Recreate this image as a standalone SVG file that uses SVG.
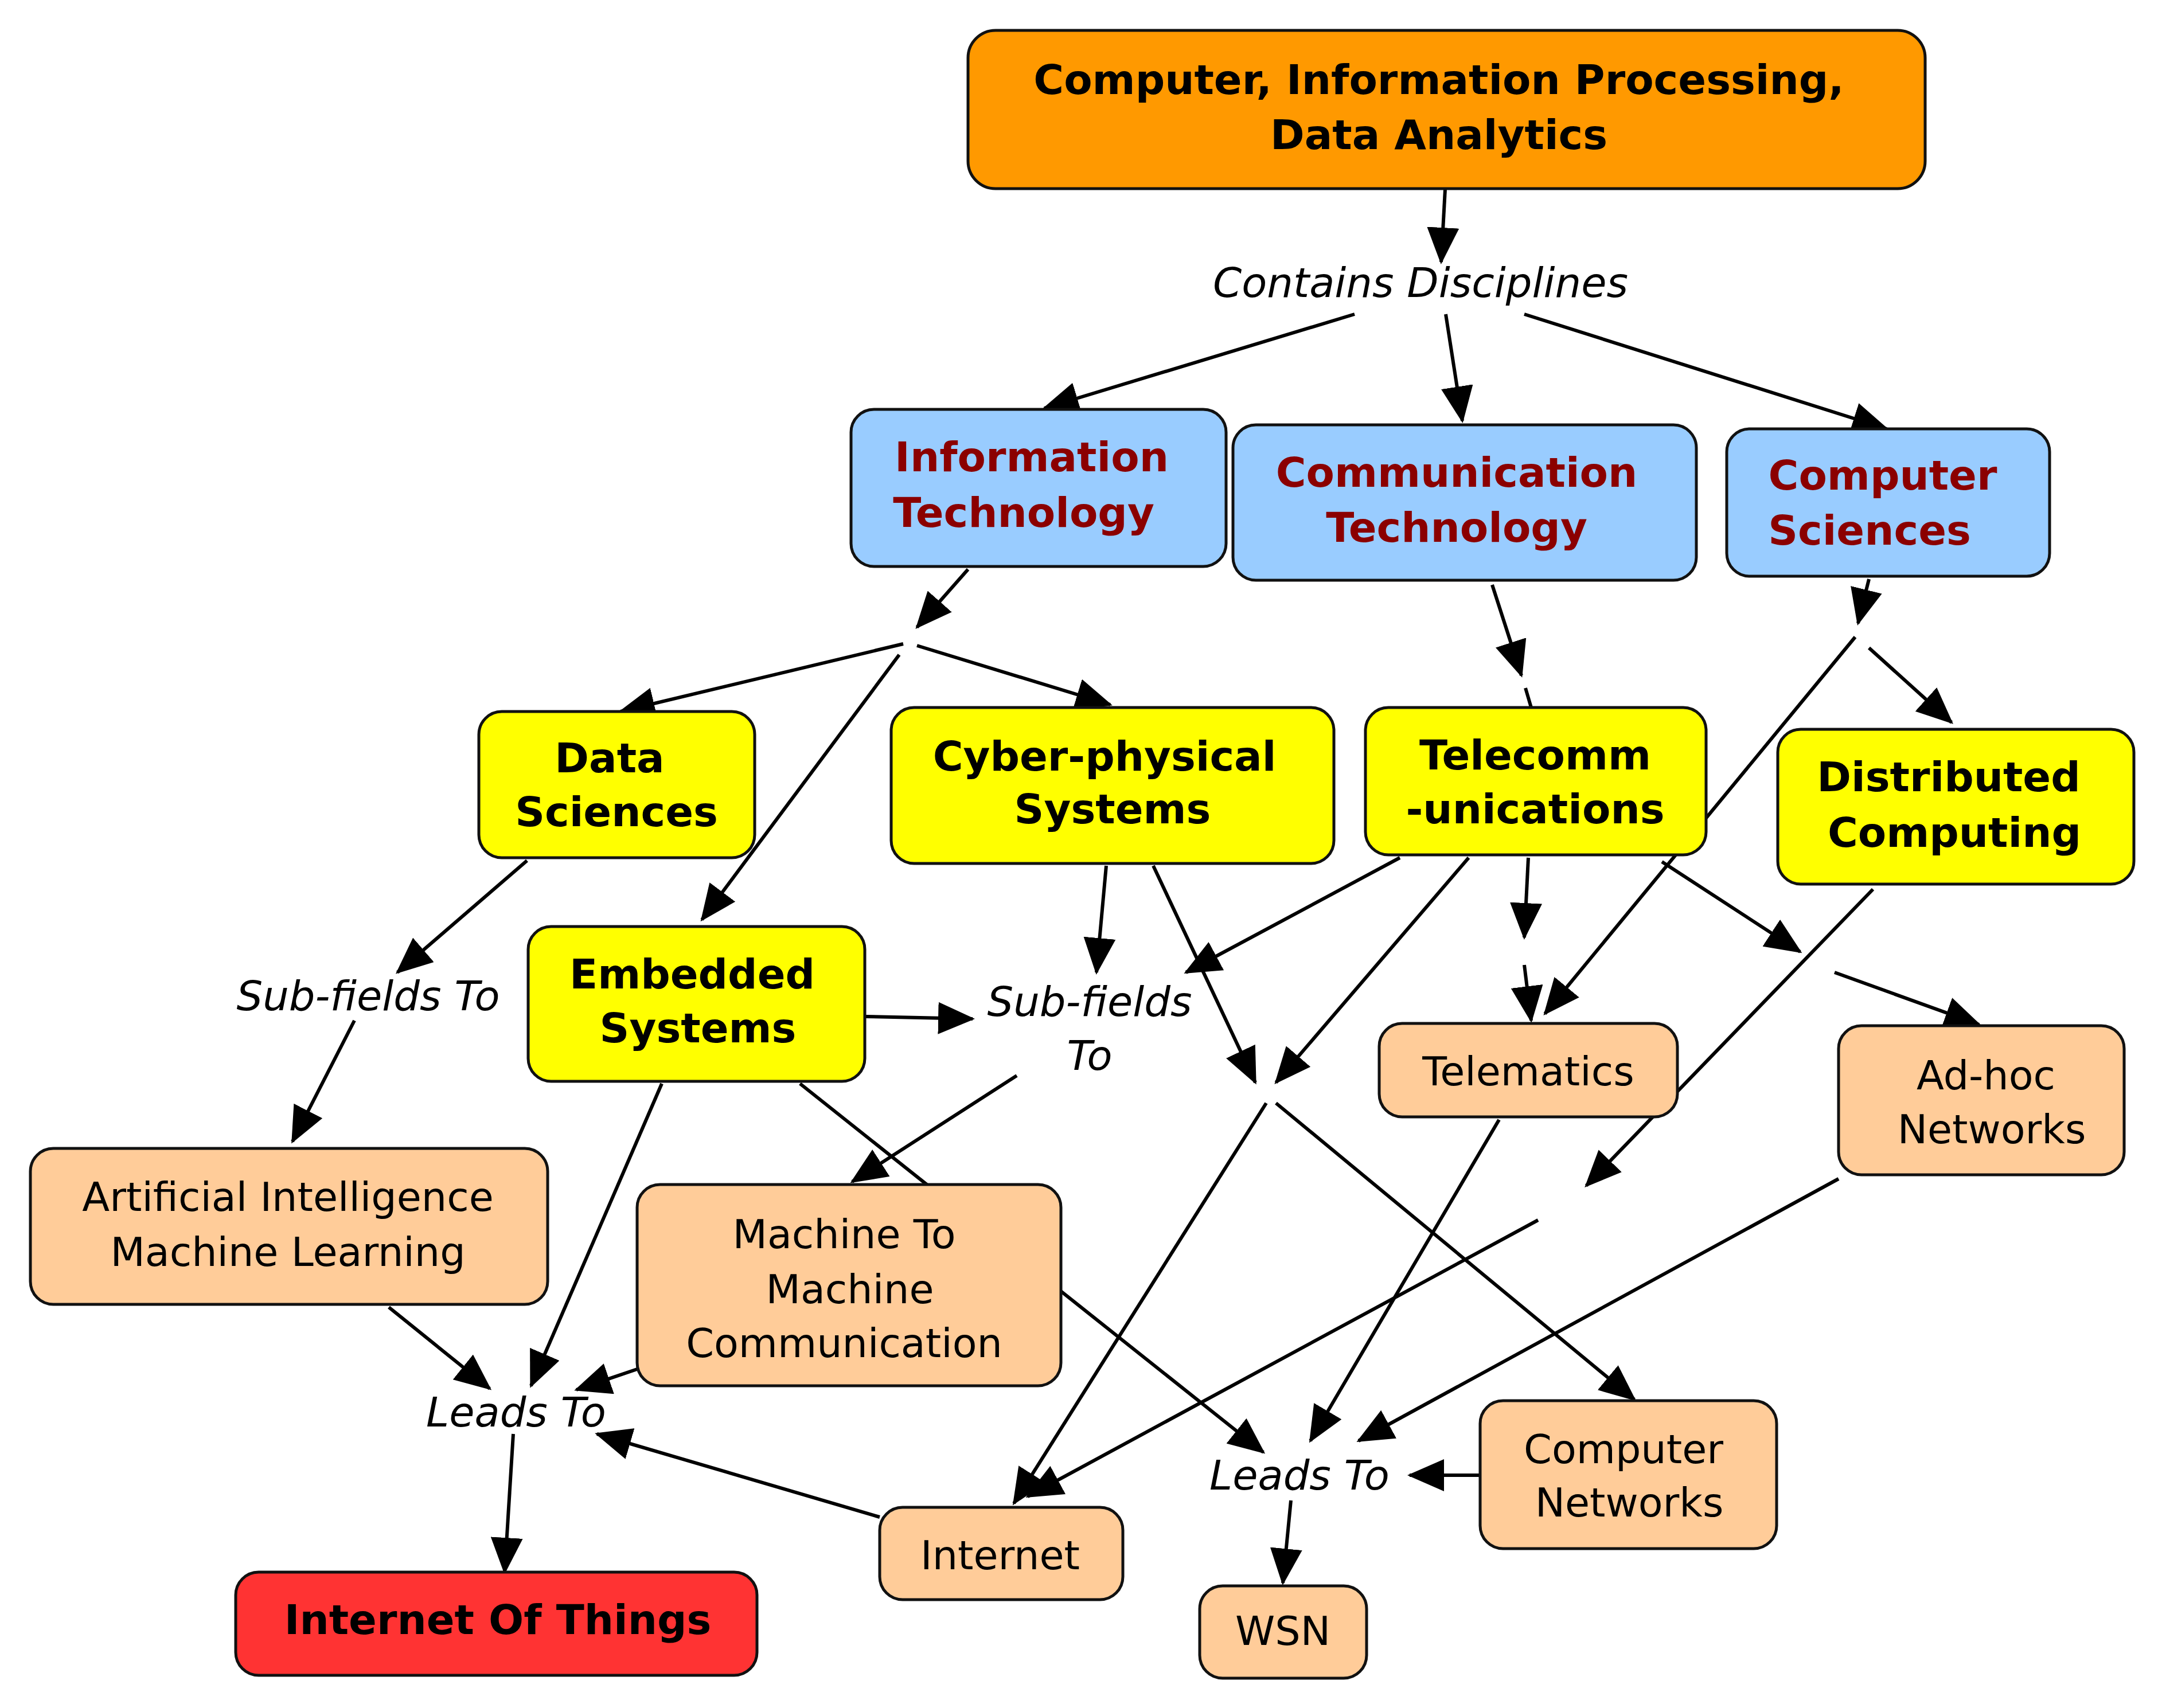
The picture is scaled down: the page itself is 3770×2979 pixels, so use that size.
<svg xmlns="http://www.w3.org/2000/svg" width="3770" height="2979" viewBox="0 0 3770 2979">
<style>
.n{stroke:#111;stroke-width:5}
.b{font-family:"DejaVu Sans",Verdana,sans-serif;font-weight:bold;font-size:72px;text-anchor:middle;fill:#000}
.r{fill:#8B0000}
.t{font-family:"DejaVu Sans",Verdana,sans-serif;font-size:70px;text-anchor:middle;fill:#000}
.l{font-family:"DejaVu Sans",Verdana,sans-serif;font-style:italic;font-size:72px;text-anchor:middle;fill:#000}
.c line{stroke:#000;stroke-width:6}
.a{marker-end:url(#ah)}
</style>
<defs>
<marker id="ah" markerUnits="userSpaceOnUse" markerWidth="64" markerHeight="56" refX="60" refY="28" orient="auto"><path d="M0,0 L64,28 L0,56 Z" fill="#000"/></marker>
</defs>
<rect width="3770" height="2979" fill="#fff"/>
<g id="connectors" class="c">
<line class="a" x1="2520" y1="330" x2="2513" y2="457"/>
<line class="a" x1="2362" y1="548" x2="1821" y2="712"/>
<line class="a" x1="2521" y1="548" x2="2550" y2="734"/>
<line class="a" x1="2658" y1="548" x2="3290" y2="748"/>
<line class="a" x1="1688" y1="993" x2="1599" y2="1094"/>
<line class="a" x1="1575" y1="1123" x2="1082" y2="1241"/>
<line class="a" x1="1599" y1="1126" x2="1936" y2="1229"/>
<line class="a" x1="1568" y1="1142" x2="1224" y2="1604"/>
<line class="a" x1="2602" y1="1020" x2="2653" y2="1178"/>
<line x1="2660" y1="1200" x2="2670" y2="1234"/>
<line class="a" x1="3259" y1="1010" x2="3240" y2="1087"/>
<line class="a" x1="3259" y1="1130" x2="3403" y2="1260"/>
<line class="a" x1="3235" y1="1111" x2="2694" y2="1768"/>
<line class="a" x1="2665" y1="1496" x2="2658" y2="1635"/>
<line class="a" x1="2658" y1="1683" x2="2670" y2="1780"/>
<line class="a" x1="2898" y1="1503" x2="3139" y2="1660"/>
<line class="a" x1="3199" y1="1696" x2="3451" y2="1787"/>
<line class="a" x1="2441" y1="1496" x2="2068" y2="1696"/>
<line class="a" x1="2561" y1="1496" x2="2225" y2="1888"/>
<line class="a" x1="1929" y1="1510" x2="1912" y2="1696"/>
<line class="a" x1="2011" y1="1510" x2="2189" y2="1888"/>
<line class="a" x1="2208" y1="1924" x2="1768" y2="2622"/>
<line class="a" x1="2225" y1="1924" x2="2850" y2="2441"/>
<line class="a" x1="919" y1="1501" x2="693" y2="1696"/>
<line class="a" x1="618" y1="1780" x2="510" y2="1991"/>
<line class="a" x1="1510" y1="1773" x2="1696" y2="1777"/>
<line class="a" x1="1773" y1="1876" x2="1486" y2="2061"/>
<line class="a" x1="1154" y1="1890" x2="926" y2="2417"/>
<line class="a" x1="1395" y1="1890" x2="2203" y2="2533"/>
<line class="a" x1="678" y1="2280" x2="854" y2="2422"/>
<line class="a" x1="1111" y1="2388" x2="1005" y2="2424"/>
<line class="a" x1="1534" y1="2646" x2="1041" y2="2501"/>
<line class="a" x1="895" y1="2501" x2="880" y2="2742"/>
<line class="a" x1="3266" y1="1551" x2="2766" y2="2068"/>
<line class="a" x1="2682" y1="2128" x2="1792" y2="2610"/>
<line class="a" x1="2614" y1="1953" x2="2285" y2="2513"/>
<line class="a" x1="3206" y1="2056" x2="2369" y2="2513"/>
<line class="a" x1="2581" y1="2573" x2="2458" y2="2573"/>
<line class="a" x1="2251" y1="2617" x2="2237" y2="2761"/>
</g>
<g id="labels">
<text class="l" x="2477" y="518">Contains Disciplines</text>
<text class="l" x="642" y="1762">Sub-fields To</text>
<text class="l" x="1900" y="1772">Sub-fields</text>
<text class="l" x="1900" y="1866">To</text>
<text class="l" x="900" y="2488">Leads To</text>
<text class="l" x="2266" y="2598">Leads To</text>
</g>
<g id="n-top"><rect class="n" x="1688" y="53" width="1669" height="276" rx="48" fill="#FF9900"/><text class="b" x="2509" y="164">Computer, Information Processing,</text><text class="b" x="2509" y="260">Data Analytics</text></g>
<g id="n-it"><rect class="n" x="1484" y="714" width="654" height="274" rx="40" fill="#99CCFF"/><text class="b r" x="1799" y="822">Information</text><text class="b r" x="1785" y="919">Technology</text></g>
<g id="n-ct"><rect class="n" x="2150" y="741" width="808" height="271" rx="40" fill="#99CCFF"/><text class="b r" x="2540" y="849">Communication</text><text class="b r" x="2540" y="945">Technology</text></g>
<g id="n-cs"><rect class="n" x="3011" y="748" width="563" height="257" rx="40" fill="#99CCFF"/><text class="b r" x="3283" y="854">Computer</text><text class="b r" x="3260" y="950">Sciences</text></g>
<g id="n-ds"><rect class="n" x="835" y="1241" width="481" height="255" rx="40" fill="#FFFF00"/><text class="b" x="1063" y="1347">Data</text><text class="b" x="1075" y="1441">Sciences</text></g>
<g id="n-cps"><rect class="n" x="1554" y="1234" width="772" height="272" rx="40" fill="#FFFF00"/><text class="b" x="1926" y="1344">Cyber-physical</text><text class="b" x="1940" y="1436">Systems</text></g>
<g id="n-tel"><rect class="n" x="2381" y="1234" width="594" height="257" rx="40" fill="#FFFF00"/><text class="b" x="2677" y="1342">Telecomm</text><text class="b" x="2677" y="1436">-unications</text></g>
<g id="n-dc"><rect class="n" x="3100" y="1272" width="621" height="270" rx="40" fill="#FFFF00"/><text class="b" x="3398" y="1380">Distributed</text><text class="b" x="3408" y="1477">Computing</text></g>
<g id="n-es"><rect class="n" x="921" y="1616" width="587" height="270" rx="40" fill="#FFFF00"/><text class="b" x="1207" y="1724">Embedded</text><text class="b" x="1217" y="1818">Systems</text></g>
<g id="n-ai"><rect class="n" x="53" y="2003" width="902" height="272" rx="40" fill="#FFCC99"/><text class="t" x="502" y="2112">Artificial Intelligence</text><text class="t" x="502" y="2208">Machine Learning</text></g>
<g id="n-m2m"><rect class="n" x="1111" y="2066" width="739" height="351" rx="40" fill="#FFCC99"/><text class="t" x="1472" y="2177">Machine To</text><text class="t" x="1482" y="2273">Machine</text><text class="t" x="1472" y="2367">Communication</text></g>
<g id="n-tm"><rect class="n" x="2405" y="1785" width="520" height="163" rx="40" fill="#FFCC99"/><text class="t" x="2665" y="1893">Telematics</text></g>
<g id="n-ah"><rect class="n" x="3206" y="1789" width="498" height="260" rx="40" fill="#FFCC99"/><text class="t" x="3463" y="1900">Ad-hoc</text><text class="t" x="3473" y="1994">Networks</text></g>
<g id="n-cn"><rect class="n" x="2581" y="2443" width="517" height="258" rx="40" fill="#FFCC99"/><text class="t" x="2831" y="2552">Computer</text><text class="t" x="2841" y="2645">Networks</text></g>
<g id="n-inet"><rect class="n" x="1534" y="2629" width="424" height="161" rx="40" fill="#FFCC99"/><text class="t" x="1744" y="2737">Internet</text></g>
<g id="n-wsn"><rect class="n" x="2092" y="2766" width="291" height="161" rx="40" fill="#FFCC99"/><text class="t" x="2237" y="2869">WSN</text></g>
<g id="n-iot"><rect class="n" x="411" y="2742" width="909" height="180" rx="40" fill="#FF3333"/><text class="b" x="868" y="2850">Internet Of Things</text></g>
</svg>
